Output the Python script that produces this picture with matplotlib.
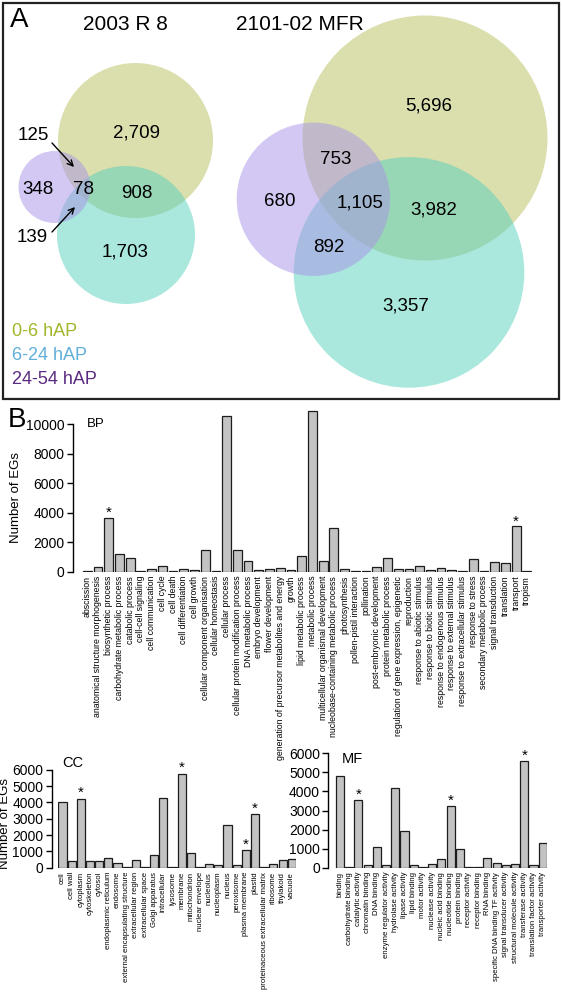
import matplotlib
matplotlib.use('Agg')
import matplotlib.pyplot as plt
from matplotlib.patches import Circle, Rectangle

plt.rcParams['font.family'] = ['Liberation Sans', 'DejaVu Sans']

# ---------------- data ----------------
venn_titles = ['2003 R 8', '2101-02 MFR']
# left Venn region counts: only 0-6, 0-6&6-24, only 6-24, only 24-54, 0-6&24-54, all, 6-24&24-54
venn_left_counts = ['2,709', '908', '1,703', '348', '125', '78', '139']
# right Venn region counts: only 0-6, 0-6&24-54, only 24-54, all, 0-6&6-24, 6-24&24-54, only 6-24
venn_right_counts = ['5,696', '753', '680', '1,105', '3,982', '892', '3,357']
stage_names = ['0-6 hAP', '6-24 hAP', '24-54 hAP']
stage_text_colors = ['#a3b52a', '#5fb0da', '#5a2a80']

bp_categories = ['abscission', 'anatomical structure morphogenesis', 'biosynthetic process',
                 'carbohydrate metabolic process', 'catabolic process', 'cell-cell signaling',
                 'cell communication', 'cell cycle', 'cell death', 'cell differentiation',
                 'cell growth', 'cellular component organisation', 'cellular homeostasis',
                 'cellular process', 'cellular protein modification process',
                 'DNA metabolic process', 'embryo development', 'flower development',
                 'generation of precursor metabolites and energy', 'growth',
                 'lipid metabolic process', 'metabolic process',
                 'multicellular organismal development',
                 'nucleobase-containing metabolic process', 'photosynthesis',
                 'pollen-pistil interaction', 'pollination', 'post-embryonic development',
                 'protein metabolic process', 'regulation of gene expression, epigenetic',
                 'reproduction', 'response to abiotic stimulus', 'response to biotic stimulus',
                 'response to endogenous stimulus', 'response to external stimulus',
                 'response to extracellular stimulus', 'response to stress',
                 'secondary metabolic process', 'signal transduction', 'translation',
                 'transport', 'tropism']
bp_values = [20, 320, 3660, 1180, 900, 20, 150, 365, 50, 200,
             100, 1490, 50, 10550, 1490, 705, 120, 150, 230, 130,
             1060, 10900, 705, 2980, 150, 20, 30, 300, 950, 200,
             170, 360, 100, 250, 130, 20, 860, 80, 680, 590,
             3070, 20]
bp_starred = ['biosynthetic process', 'transport']

cc_categories = ['cell', 'cell wall', 'cytoplasm', 'cytoskeleton', 'cytosol',
                 'endoplasmic reticulum', 'endosome', 'external encapsulating structure',
                 'extracellular region', 'extracellular space', 'Golgi apparatus',
                 'intracellular', 'lysosome', 'membrane', 'mitochondrion',
                 'nuclear envelope', 'nucleolus', 'nucleoplasm', 'nucleus', 'peroxisome',
                 'plasma membrane', 'plastid', 'proteinaceous extracellular matrix',
                 'ribosome', 'thylakoid', 'vacuole']
cc_values = [4010, 410, 4240, 420, 420, 615, 280, 20, 470, 15, 800,
             4280, 30, 5770, 880, 70, 200, 180, 2640, 170,
             1090, 3315, 15, 250, 470, 530]
cc_starred = ['cytoplasm', 'membrane', 'plasma membrane', 'plastid']

mf_categories = ['binding', 'carbohydrate binding', 'catalytic activity', 'chromatin binding',
                 'DNA binding', 'enzyme regulator activity', 'hydrolase activity',
                 'lipase activity', 'lipid binding', 'motor activity', 'nuclease activity',
                 'nucleic acid binding', 'nucleotide binding', 'protein binding',
                 'receptor activity', 'receptor binding', 'RNA binding',
                 'specific DNA binding TF activity', 'signal transducer activity',
                 'structural molecule activity', 'transferase activity',
                 'translation factor activity', 'transporter activity']
mf_values = [4830, 50, 3550, 150, 1100, 120, 4200, 1925, 150, 60, 180,
             470, 3220, 1000, 60, 20, 520, 260, 130, 200, 5580, 130, 1280]
mf_starred = ['catalytic activity', 'nucleotide binding', 'transferase activity']

# ---------------- figure ----------------
W, H = 562, 992
fig = plt.figure(figsize=(W / 100, H / 100), dpi=100)

# Panel A drawn in pixel coordinates
av = fig.add_axes([0, 0, 1, 1], zorder=0)
av.set_xlim(0, W)
av.set_ylim(H, 0)
av.axis('off')

av.add_patch(Rectangle((2.5, 3), 556.5, 396, fill=False, edgecolor='#222222', lw=1.6))
av.text(10, 20, 'A', fontsize=20, va='center', ha='left')
av.text(125, 24, venn_titles[0], fontsize=15, ha='center', va='center')
av.text(300, 24, venn_titles[1], fontsize=15, ha='center', va='center')

col_y = '#b9bf5d'
col_c = '#56d1bd'
col_p = '#a893e8'
alpha = 0.5

# left Venn (0-6, 6-24, 24-54)
av.add_patch(Circle((135.5, 140.5), 77.5, color=col_y, alpha=alpha, lw=0))
av.add_patch(Circle((126, 235), 69, color=col_c, alpha=alpha, lw=0))
av.add_patch(Circle((54.5, 187), 36, color=col_p, alpha=alpha, lw=0))

# right Venn
av.add_patch(Circle((425, 138), 122.5, color=col_y, alpha=alpha, lw=0))
av.add_patch(Circle((409, 272.4), 115.3, color=col_c, alpha=alpha, lw=0))
av.add_patch(Circle((313.4, 199.3), 76.7, color=col_p, alpha=alpha, lw=0))

nfs = 13.5
left_pos = [(137, 133), (137, 193), (125, 252), (38, 189), (33, 136), (83, 189), (32, 238)]
for (x, y), s in zip(left_pos, venn_left_counts):
    av.text(x, y, s, fontsize=nfs, ha='center', va='center')
av.annotate('', xy=(74, 167), xytext=(52, 143),
            arrowprops=dict(arrowstyle='->', lw=1.0, color='black', shrinkA=0, shrinkB=0))
av.annotate('', xy=(75, 207), xytext=(52, 232),
            arrowprops=dict(arrowstyle='->', lw=1.0, color='black', shrinkA=0, shrinkB=0))

right_pos = [(429, 106), (336, 159), (280, 202), (360, 203), (434, 210), (329, 248), (406, 306)]
for (x, y), s in zip(right_pos, venn_right_counts):
    av.text(x, y, s, fontsize=nfs, ha='center', va='center')

for i, (name, c) in enumerate(zip(stage_names, stage_text_colors)):
    av.text(12, 331 + i * 24.5, name, color=c, fontsize=13, ha='left', va='center')

av.text(8, 420, 'B', fontsize=20, ha='left', va='center')


def px_axes(left, right, bottom, top):
    return fig.add_axes([left / W, 1 - bottom / H, (right - left) / W, (bottom - top) / H], zorder=2)


def bar_panel(ax, cats, vals, starred, ymax, ticks, tick_fs, lab_fs, width, offset_pt, star_pad):
    x = list(range(len(cats)))
    ax.bar(x, vals, width=width, color='#c3c3c3', edgecolor='#1c1c1c', linewidth=0.9, zorder=2)
    ax.set_xlim(-0.5, len(cats) - 0.5)
    ax.set_ylim(0, ymax)
    ax.set_xticks(x)
    ax.set_xticklabels(cats, rotation=90, fontsize=lab_fs, va='top', ha='center')
    ax.tick_params(axis='x', length=0, pad=3)
    ax.set_yticks(ticks)
    ax.set_yticklabels([str(t) for t in ticks], fontsize=tick_fs)
    ax.tick_params(axis='y', length=4, width=1, pad=2)
    for s in ['top', 'right', 'bottom']:
        ax.spines[s].set_visible(False)
    ax.spines['left'].set_position(('outward', offset_pt))
    ax.spines['left'].set_bounds(0, ticks[-1])
    ax.spines['left'].set_linewidth(1)
    ax.patch.set_alpha(0)
    for c in starred:
        i = cats.index(c)
        ax.text(i, vals[i] + star_pad, '*', ha='center', va='bottom', fontsize=11,
                clip_on=False)


# BP axes
ax_bp = px_axes(81.9, 532.2, 571.7, 409.0)
bar_panel(ax_bp, bp_categories, bp_values, bp_starred, 11050,
          [0, 2000, 4000, 6000, 8000, 10000], 7.5, 6.3, 0.82, 6.5, -150)
ax_bp.set_ylabel('Number of EGs', fontsize=9.5)
ax_bp.yaxis.set_label_coords(-0.133, 0.453)
ax_bp.text(0.0, 10000, 'BP', fontsize=9.5, ha='left', va='center')

# CC axes
ax_cc = px_axes(57.9, 296.3, 867.7, 765.0)
bar_panel(ax_cc, cc_categories, cc_values, cc_starred, 6300,
          [0, 1000, 2000, 3000, 4000, 5000, 6000], 7.2, 5.6, 0.88, 4.5, -100)
ax_cc.set_ylabel('Number of EGs', fontsize=9.5)
ax_cc.yaxis.set_label_coords(-0.195, 0.435)
ax_cc.text(0.0, 6400, 'CC', fontsize=10.5, ha='left', va='center')

# MF axes
ax_mf = px_axes(335.4, 547.3, 867.7, 753.3)
bar_panel(ax_mf, mf_categories, mf_values, mf_starred, 6000,
          [0, 1000, 2000, 3000, 4000, 5000, 6000], 7.2, 5.6, 0.88, 5.0, -100)
ax_mf.text(0.2, 5700, 'MF', fontsize=10.5, ha='left', va='center')

fig.savefig('out.png', dpi=100)
